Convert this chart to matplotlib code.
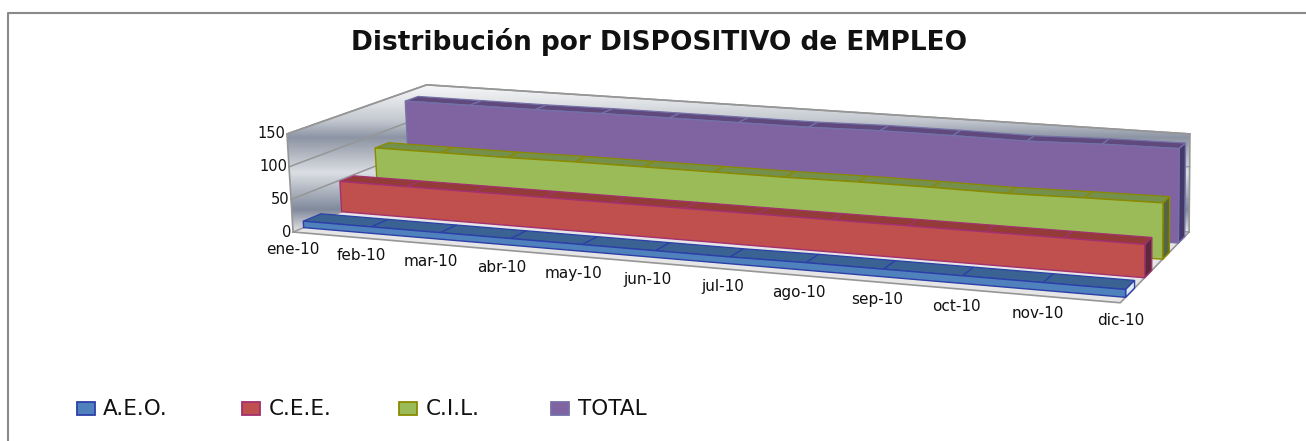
"""
Distribucion por dispositivo de empleo: Excel style 3D area chart.
Drawn on a plain pixel axes, each (month, depth, value) goes through a projection
fitted on the corners of the chart box.
"""
import matplotlib
matplotlib.use('Agg')
import matplotlib.patches as mp
import matplotlib.pyplot as plt
import numpy as np

plt.rcParams['font.family'] = ['DejaVu Sans']

months = ['ene-10', 'feb-10', 'mar-10', 'abr-10', 'may-10', 'jun-10', 'jul-10', 'ago-10', 'sep-10', 'oct-10', 'nov-10', 'dic-10']
aeo = [10, 10, 10, 10, 10, 10, 10, 11, 11, 11, 11, 11]
cee = [48, 48, 48, 48, 48, 48, 48, 48, 48, 48, 48, 48]
cil = [79, 79, 79, 80, 80, 80, 80, 81, 81, 80, 82, 83]
total = [136, 136, 136, 137, 137, 137, 137, 139, 139, 138, 141, 142]
series_names = ['A.E.O.', 'C.E.E.', 'C.I.L.', 'TOTAL']
series_values = [aeo, cee, cil, total]
zticks = [0, 50, 100, 150]

W, H = 1306, 441
ZMAX = 150.
XMAX = 11.

# box corners (month, depth, value) -> pixel, used to fit the camera
corners = [
    ((0, 0, 0), (293, 232)), ((XMAX, 0, 0), (1123, 302)),
    ((XMAX, 1, 0), (1187, 232)), ((0, 1, 0), (431, 175)),
    ((0, 0, ZMAX), (287, 133)), ((XMAX, 0, ZMAX), (1118, 196)),
    ((XMAX, 1, ZMAX), (1192, 133)), ((0, 1, ZMAX), (427, 85)),
]

A = []
b = []
for (x, d, z), (u, v) in corners:
    A.append([x, d, z, 1, 0, 0, 0, 0, -u*x, -u*d, -u*z])
    b.append(u)
    A.append([0, 0, 0, 0, x, d, z, 1, -v*x, -v*d, -v*z])
    b.append(v)
cam = np.linalg.lstsq(np.array(A, float), np.array(b, float), rcond=None)[0]


def proj(x, d, z):
    w = cam[8]*x + cam[9]*d + cam[10]*z + 1
    return ((cam[0]*x + cam[1]*d + cam[2]*z + cam[3])/w,
            (cam[4]*x + cam[5]*d + cam[6]*z + cam[7])/w)


def gradient_poly(ax, pts, stops, zo):
    # vertical chrome gradient clipped on a polygon
    pts = np.array(pts)
    pos = [s[0] for s in stops]
    vals = [s[1] for s in stops]
    yy = np.linspace(0, 1, 256)
    img = np.zeros((256, 1, 3))
    for c in range(3):
        img[:, 0, c] = np.interp(yy, pos, [v[c] for v in vals])
    ymin, ymax = pts[:, 1].min(), pts[:, 1].max()
    im = ax.imshow(img, extent=(pts[:, 0].min(), pts[:, 0].max(), ymax, ymin), aspect='auto', zorder=zo, interpolation='bilinear')
    im.set_clip_path(mp.Polygon(pts, closed=True, transform=ax.transData))


fig = plt.figure(figsize=(W/100., H/100.), dpi=100)
ax = fig.add_axes([0, 0, 1, 1])
ax.set_xlim(0, W)
ax.set_ylim(H, 0)
ax.axis('off')

# chart frame, only left and top fall inside the crop
ax.plot([7.5, 7.5, W], [H, 12.5, 12.5], color='#8a8a8a', lw=1.5, zorder=1)

# both walls share one band pattern, y runs from the wall top to the floor
wall_stops = [(0, (0.97, 0.97, 0.98)), (0.12, (0.88, 0.89, 0.90)), (0.25, (0.76, 0.78, 0.81)),
              (0.36, (0.55, 0.58, 0.64)), (0.6, (0.86, 0.87, 0.89)), (0.85, (0.50, 0.54, 0.61)),
              (1, (0.90, 0.90, 0.91))]

walls = [proj(0, 0, 0), proj(0, 0, ZMAX), proj(0, 1, ZMAX), proj(XMAX, 1, ZMAX), proj(XMAX, 1, 0), proj(0, 1, 0)]
gradient_poly(ax, walls, wall_stops, 2)

floor = [proj(0, 0, 0), proj(XMAX, 0, 0), proj(XMAX, 1, 0), proj(0, 1, 0)]
ax.add_patch(mp.Polygon(floor, closed=True, fc='#e6e6e6', ec='none', zorder=3))

wall_line = '#969696'
for z in zticks:
    xs, ys = zip(proj(0, 0, z), proj(0, 1, z), proj(XMAX, 1, z))
    ax.plot(xs, ys, color=wall_line, lw=1.1, zorder=3)
for pts in [[proj(0, 0, 0), proj(0, 0, ZMAX), proj(0, 1, ZMAX), proj(XMAX, 1, ZMAX), proj(XMAX, 1, 0)],
            [proj(0, 0, 0), proj(XMAX, 0, 0), proj(XMAX, 1, 0)]]:
    xs, ys = zip(*pts)
    ax.plot(xs, ys, color=wall_line, lw=1.2, zorder=3)

for z in zticks:
    u, v = proj(0, 0, z)
    ax.text(u - 2, v, str(z), ha='right', va='center', fontsize=10.5, color='#111111', zorder=12)

for i, m in enumerate(months):
    u, v = proj(i, 0, 0)
    ax.text(u, v + 17.5, m, ha='center', va='center', fontsize=11, color='#111111', zorder=12)

face = ['#4f81bd', '#c0504d', '#9bbb59', '#8064a2']
top = ['#3a6293', '#943b39', '#75904a', '#60497d']
side = ['#dfe8f5', '#5a2a3a', '#566640', '#43386a']
edge = ['#2c3fa8', '#a3306f', '#8a8a00', '#7470a8']
depth_front = [0.07, 0.33, 0.59, 0.83]
thick = [0.12, 0.10, 0.10, 0.10]

for k in range(4):
    vals = series_values[k]
    d0 = depth_front[k]
    d1 = d0 + thick[k]
    zo = 10 - k
    xs = np.arange(len(vals))
    front = [proj(x, d0, v) for x, v in zip(xs, vals)]
    base = [proj(x, d0, 0) for x in xs]
    ax.add_patch(mp.Polygon(front + base[::-1], closed=True, fc=face[k], ec=edge[k], lw=1.0, zorder=zo + 0.2))
    # top face, one strip per month
    for i in range(len(vals) - 1):
        q = [proj(i, d0, vals[i]), proj(i + 1, d0, vals[i + 1]), proj(i + 1, d1, vals[i + 1]), proj(i, d1, vals[i])]
        ax.add_patch(mp.Polygon(q, closed=True, fc=top[k], ec=edge[k], lw=0.9, zorder=zo))
    # right side
    last = vals[-1]
    q = [proj(11, d0, 0), proj(11, d1, 0), proj(11, d1, last), proj(11, d0, last)]
    ax.add_patch(mp.Polygon(q, closed=True, fc=side[k], ec=edge[k], lw=1.0, zorder=zo + 0.1))

# legend
leg_x = [76.5, 241.5, 399, 551]
txt_x = [103, 269, 426, 578]
for k in range(4):
    ax.add_patch(mp.Rectangle((leg_x[k], 401.5), 18, 13, fc=face[k], ec=edge[k], lw=1.3, zorder=9))
    ax.text(txt_x[k], 409, series_names[k], ha='left', va='center', fontsize=15.5, color='#111111', zorder=9)

ax.text(659, 41.5, 'Distribución por DISPOSITIVO de EMPLEO', ha='center', va='center', fontsize=19, fontweight='bold', color='#111111', zorder=9)

fig.savefig('out.png', dpi=100)
